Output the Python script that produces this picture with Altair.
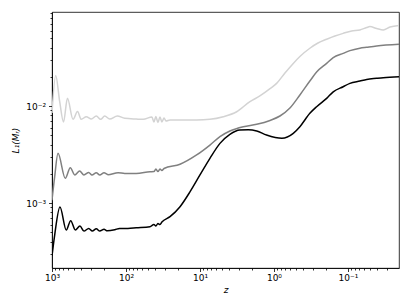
import altair as alt
import pandas as pd

# ---- data ----
z_black = [1000, 920, 780, 641, 559, 484, 419, 370, 319, 285, 252, 226, 198, 179, 142, 122, 94, 72.6,
           47.4, 41.9, 39.4, 37.0, 34.7, 32.7, 25.4, 18.6, 13.6, 10, 7.33, 5.37, 3.94, 2.88, 2.22,
           1.71, 1.26, 0.780, 0.548, 0.446, 0.327, 0.265, 0.194, 0.158, 0.116, 0.094, 0.0689,
           0.0558, 0.0409, 0.0333, 0.0204]
L_black = [2.85e-4, 4.68e-4, 9.10e-4, 5.27e-4, 6.58e-4, 5.27e-4, 5.80e-4, 5.14e-4, 5.48e-4, 5.14e-4,
           5.43e-4, 5.14e-4, 5.36e-4, 5.18e-4, 5.31e-4, 5.48e-4, 5.48e-4, 5.56e-4,
           5.70e-4, 6.00e-4, 5.80e-4, 6.15e-4, 6.00e-4, 6.37e-4, 7.23e-4, 9.17e-4, 1.31e-3, 1.95e-3,
           2.89e-3, 4.12e-3, 5.11e-3, 5.66e-3, 5.69e-3,
           5.52e-3, 5.02e-3, 4.65e-3, 5.23e-3, 6.12e-3, 8.41e-3, 9.84e-3, 1.20e-2, 1.40e-2, 1.58e-2,
           1.71e-2, 1.81e-2, 1.88e-2, 1.93e-2, 1.96e-2, 2.00e-2]

z_gray = [1000, 920, 830, 661, 566, 493, 423, 370, 319, 288, 252, 226, 198, 175, 128, 104, 72.6,
          47.4, 41.9, 39.4, 37.0, 34.7, 32.7, 30.6, 18.6, 11.1, 7.33, 5.37, 3.94, 2.60, 1.71, 1.13,
          0.830, 0.608, 0.446, 0.327, 0.265, 0.194, 0.158, 0.116, 0.094, 0.0689, 0.0558, 0.0409,
          0.0204]
L_gray = [1.07e-3, 1.87e-3, 3.25e-3, 1.80e-3, 2.31e-3, 1.95e-3, 2.14e-3, 1.95e-3, 2.07e-3, 1.95e-3,
          2.05e-3, 1.95e-3, 2.05e-3, 1.96e-3, 2.05e-3, 2.02e-3, 2.02e-3,
          2.10e-3, 2.11e-3, 2.24e-3, 2.11e-3, 2.24e-3, 2.16e-3, 2.27e-3, 2.51e-3, 3.13e-3, 3.96e-3,
          4.83e-3, 5.52e-3, 6.12e-3, 6.48e-3, 7.10e-3,
          7.89e-3, 9.54e-3, 1.30e-2, 1.81e-2, 2.24e-2, 2.75e-2, 3.16e-2, 3.49e-2, 3.72e-2, 3.94e-2,
          4.03e-2, 4.16e-2, 4.33e-2]

z_light = [1000, 891, 787, 699, 618, 520, 452, 402, 344, 294, 252, 220, 194, 166, 131, 104, 72.6,
           58.4, 44.6, 41.9, 39.4, 37.0, 34.7, 32.7, 30.6, 28.8, 25.4, 11.1, 7.33, 4.84, 3.19, 2.11,
           1.55, 1.13, 0.920, 0.710, 0.548, 0.446, 0.327, 0.254, 0.194, 0.150, 0.116, 0.0891,
           0.0689, 0.0558, 0.0505, 0.0409, 0.0333, 0.0270, 0.0204]
L_light = [8.47e-3, 2.06e-2, 1.11e-2, 6.84e-3, 1.20e-2, 7.29e-3, 8.78e-3, 7.29e-3, 7.76e-3, 7.34e-3,
           7.89e-3, 7.29e-3, 7.89e-3, 7.34e-3, 7.89e-3, 7.47e-3, 7.34e-3,
           7.29e-3, 7.70e-3, 6.84e-3, 7.79e-3, 6.76e-3, 7.70e-3, 6.84e-3, 7.52e-3, 7.00e-3, 7.17e-3,
           7.17e-3, 7.29e-3, 7.76e-3, 8.73e-3, 1.11e-2,
           1.27e-2, 1.51e-2, 1.71e-2, 2.19e-2, 2.75e-2, 3.24e-2, 3.94e-2, 4.46e-2, 4.88e-2, 5.27e-2,
           5.61e-2, 5.93e-2, 6.08e-2, 6.44e-2, 6.58e-2, 6.30e-2, 6.08e-2, 6.52e-2, 6.76e-2]

x_major = [1000, 100, 10, 1, 0.1]
x_minor = [900, 800, 700, 600, 500, 400, 300, 200, 90, 80, 70, 60, 50, 40, 30, 20,
           9, 8, 7, 6, 5, 4, 3, 2, 0.9, 0.8, 0.7, 0.6, 0.5, 0.4, 0.3, 0.2,
           0.09, 0.08, 0.07, 0.06, 0.05, 0.04, 0.03]
y_major = [1e-3, 1e-2]
y_minor = [3e-4, 4e-4, 5e-4, 6e-4, 7e-4, 8e-4, 9e-4,
           2e-3, 3e-3, 4e-3, 5e-3, 6e-3, 7e-3, 8e-3, 9e-3,
           2e-2, 3e-2, 4e-2, 5e-2, 6e-2, 7e-2, 8e-2, 9e-2]

x_domain = [0.0204, 1000]
y_domain = [2.14e-4, 0.0931]

font = "DejaVu Sans"

x_label_expr = ("datum.value==1000?'10³':datum.value==100?'10²':datum.value==10?'10¹':"
                "datum.value==1?'10⁰':datum.value==0.1?'10⁻¹':''")
y_label_expr = "datum.value==0.001?'10⁻³':datum.value==0.01?'10⁻²':''"

x_axis = alt.Axis(
    values=x_major + x_minor, labelExpr=x_label_expr, labelOverlap=False,
    tickSize={"condition": {"test": "indexof([1000,100,10,1,0.1], datum.value) >= 0", "value": 3.5}, "value": 2},
    tickColor="black", domainColor="black", domainWidth=0.8, tickWidth=0.8,
    labelFont=font, labelFontSize=9, labelColor="black", labelPadding=2, labelFlush=False,
    title="z", titleFont=font, titleFontSize=9, titleFontStyle="italic", titleFontWeight="normal",
    titleColor="black", titlePadding=3, grid=False)

y_axis = alt.Axis(
    values=y_major + y_minor, labelExpr=y_label_expr, labelOverlap=False,
    tickSize={"condition": {"test": "indexof([0.001,0.01], datum.value) >= 0", "value": 3.5}, "value": 2},
    tickColor="black", domainColor="black", domainWidth=0.8, tickWidth=0.8,
    labelFont=font, labelFontSize=9, labelColor="black", labelPadding=3, labelFlush=False,
    title="L₁(Mᵣ)", titleFont=font, titleFontSize=9, titleFontStyle="italic", titleFontWeight="normal",
    titleColor="black", titlePadding=5, grid=False)


def series(zs, Ls, color):
    df = pd.DataFrame({"z": zs, "L": Ls})
    return alt.Chart(df).mark_line(color=color, strokeWidth=1.5, clip=True, interpolate="monotone").encode(
        x=alt.X("z:Q", scale=alt.Scale(type="log", domain=x_domain, reverse=True, nice=False), axis=x_axis),
        y=alt.Y("L:Q", scale=alt.Scale(type="log", domain=y_domain, nice=False), axis=y_axis),
    )


chart = alt.layer(
    series(z_light, L_light, "#d3d3d3"),
    series(z_gray, L_gray, "#808080"),
    series(z_black, L_black, "#000000"),
).properties(
    width=347, height=256,
    autosize=alt.AutoSizeParams(type="none"),
    padding={"left": 44, "top": 4, "right": 4, "bottom": 40},
    background="white",
).configure_view(stroke="black", strokeWidth=0.8)

chart.save("out.html", embed_options={"renderer": "svg", "actions": False})
